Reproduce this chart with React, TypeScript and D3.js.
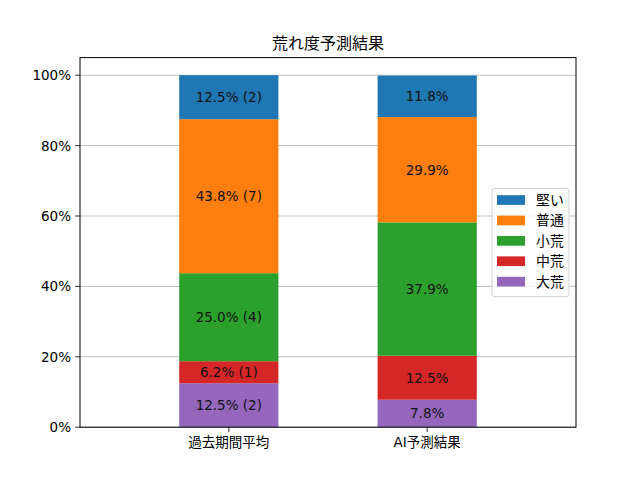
import React from "react";
import * as d3 from "d3";

const categories = ["過去期間平均", "AI予測結果"];
// stack order bottom -> top
const seriesNames = ["大荒", "中荒", "小荒", "普通", "堅い"];
const seriesColors = ["#9467bd", "#d62728", "#2ca02c", "#ff7f0e", "#1f77b4"];
const pastValues = [12.5, 6.25, 25.0, 43.75, 12.5];
const pastCounts = [2, 1, 4, 7, 2];
const aiValues = [7.8, 12.5, 37.9, 29.9, 11.8];
const yTicks = [0, 20, 40, 60, 80, 100];
const legendOrder = ["堅い", "普通", "小荒", "中荒", "大荒"];
const title = "荒れ度予測結果";

const W = 640, H = 480;
const left = 80, right = 576, top = 57.6, bottom = 427.2;
const FONT = "'DejaVu Sans', 'Noto Sans CJK JP', sans-serif";

// Python-like round half to even for one decimal
function fmt(v: number): string {
  const s = v * 10;
  const f = Math.floor(s);
  const diff = s - f;
  let r: number;
  if (Math.abs(diff - 0.5) < 1e-9) r = f % 2 === 0 ? f : f + 1;
  else r = Math.round(s);
  return (r / 10).toFixed(1);
}

export default function App() {
  const x = d3.scaleLinear().domain([-0.75, 1.75]).range([left, right]);
  const y = d3.scaleLinear().domain([0, 105]).range([bottom, top]);
  const barW = x(0.5) - x(0);
  const data = [
    { values: pastValues, counts: pastCounts as (number | null)[] },
    { values: aiValues, counts: aiValues.map(() => null) as (number | null)[] },
  ];

  return (
    <svg width={W} height={H} style={{ position: "absolute", left: 0, top: 0, background: "#fff" }} fontFamily={FONT}>
      <rect x={0} y={0} width={W} height={H} fill="#fff" />
      {yTicks.map((t) => (
        <line key={"g" + t} x1={left} x2={right} y1={y(t)} y2={y(t)} stroke="#b0b0b0" strokeWidth={0.8} />
      ))}
      {data.map((d, ci) => {
        let acc = 0;
        return (
          <g key={"b" + ci}>
            {d.values.map((v, si) => {
              const y0 = acc;
              acc += v;
              const y1 = acc;
              const label = d.counts[si] != null ? `${fmt(v)}% (${d.counts[si]})` : `${fmt(v)}%`;
              return (
                <g key={si}>
                  <rect x={x(ci) - barW / 2} width={barW} y={y(y1)} height={y(y0) - y(y1)} fill={seriesColors[si]} />
                  <text x={x(ci)} y={(y(y0) + y(y1)) / 2} textAnchor="middle" dominantBaseline="central" fontSize={13.5} fill="#111">
                    {label}
                  </text>
                </g>
              );
            })}
          </g>
        );
      })}
      <rect x={left} y={top} width={right - left} height={bottom - top} fill="none" stroke="#000" strokeWidth={1} />
      {yTicks.map((t) => (
        <g key={"yt" + t}>
          <line x1={left - 4.9} x2={left} y1={y(t)} y2={y(t)} stroke="#000" strokeWidth={0.8} />
          <text x={left - 9} y={y(t)} textAnchor="end" dominantBaseline="central" fontSize={13.5} fill="#000">
            {t + "%"}
          </text>
        </g>
      ))}
      {categories.map((c, i) => (
        <g key={"xt" + i}>
          <line x1={x(i)} x2={x(i)} y1={bottom} y2={bottom + 4.9} stroke="#000" strokeWidth={0.8} />
          <text x={x(i)} y={bottom + 15} textAnchor="middle" dominantBaseline="central" fontSize={13.5} fill="#000">
            {c}
          </text>
        </g>
      ))}
      <text x={(left + right) / 2} y={top - 14} textAnchor="middle" dominantBaseline="central" fontSize={16} fill="#000">
        {title}
      </text>
      <rect x={492} y={188.3} width={77} height={108.4} rx={3} fill="#fff" fillOpacity={0.8} stroke="#d0d0d0" strokeWidth={1} />
      {legendOrder.map((name, i) => {
        const si = seriesNames.indexOf(name);
        const cy = 200 + i * 20.4;
        return (
          <g key={"l" + name}>
            <rect x={497} y={cy - 4.8} width={28} height={9.7} fill={seriesColors[si]} />
            <text x={536} y={cy} dominantBaseline="central" fontSize={13.9} fill="#000">
              {name}
            </text>
          </g>
        );
      })}
    </svg>
  );
}
